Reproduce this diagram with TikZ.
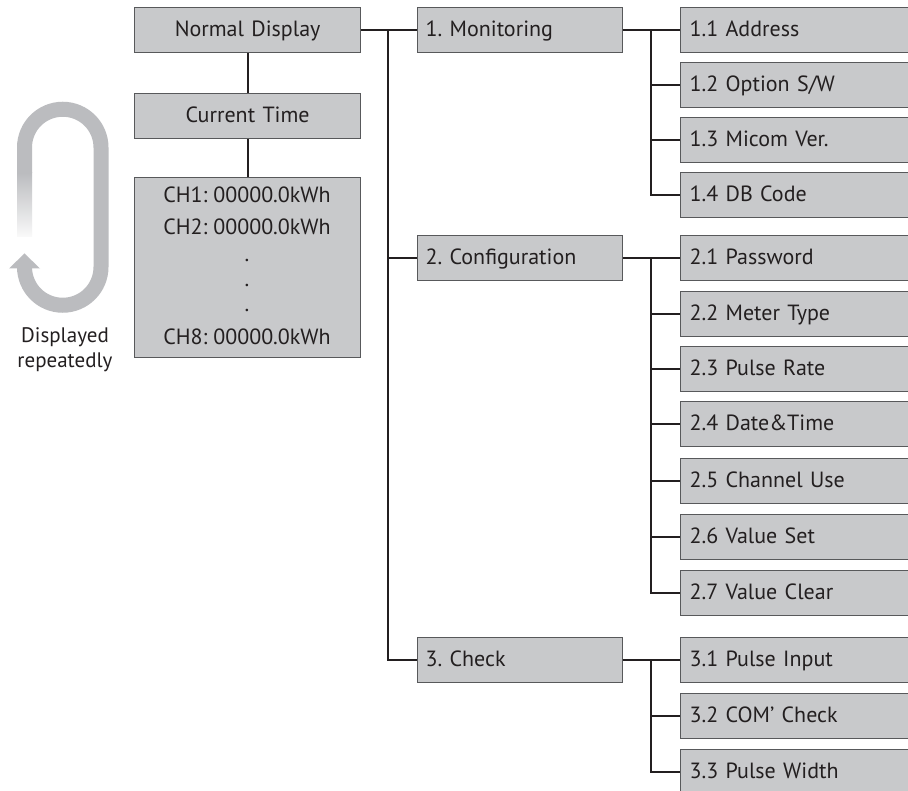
\documentclass[tikz,border=0pt]{standalone}
\usepackage{fontspec}
\setmainfont{PT Sans}
\frenchspacing
\definecolor{boxc}{HTML}{C8C9CB}
\definecolor{bordc}{HTML}{58595B}
\definecolor{linec}{HTML}{231F20}
\definecolor{loopc}{HTML}{BBBCBF}
\tikzset{
  basebox/.style={draw=bordc, fill=boxc, line width=1.2pt, minimum height=45pt,
    inner ysep=0pt, anchor=north west, text height=18pt, text depth=4.6pt,
    font=\fontsize{22}{26}\selectfont\frenchspacing, text=linec},
  mainbox/.style={basebox, inner xsep=8pt, text width=189pt, align=left},
  subbox/.style={basebox, inner xsep=9pt, text width=227pt, align=left},
  topbox/.style={basebox, inner xsep=8pt, text width=210pt, align=center},
  conn/.style={draw=linec, line width=2pt},
  chtext/.style={font=\fontsize{22}{26}\selectfont, text=linec, inner sep=0pt},
}
\begin{document}
\begin{tikzpicture}[x=1pt,y=-1pt]
\clip (0,0) rectangle (908,791);
\fill[white] (0,0) rectangle (908,791);
% left column
\node[topbox] (nd) at (134,7) {Normal Display};
\node[topbox] (ct) at (134,93) {Current Time};
\node[basebox, minimum width=226pt, minimum height=180pt, text width=0pt, text height=0pt, text depth=0pt, inner xsep=0pt] (ch) at (134,177) {};
\node[chtext] (c1) at (247,195) {CH1: 00000.0kWh};
\node[chtext] (c2) at (247,227) {CH2: 00000.0kWh};
\node[chtext, anchor=base] (d1) at (247,262) {.};
\node[chtext, anchor=base] (d2) at (247,287) {.};
\node[chtext, anchor=base] (d3) at (247,312) {.};
\node[chtext] (c8) at (247,337) {CH8: 00000.0kWh};
% menu level 1
\node[mainbox] (m1) at (417,7) {1. Monitoring};
\node[mainbox] (m2) at (417,235) {2. Configuration};
\node[mainbox] (m3) at (417,637) {3. Check};
% level 2
\node[subbox] (s11) at (680,7) {1.1 Address};
\node[subbox] (s12) at (680,62) {1.2 Option S/W};
\node[subbox] (s13) at (680,117) {1.3 Micom Ver.};
\node[subbox] (s14) at (680,172) {1.4 DB Code};
\node[subbox] (s21) at (680,235) {2.1 Password};
\node[subbox] (s22) at (680,291) {2.2 Meter Type};
\node[subbox] (s23) at (680,346) {2.3 Pulse Rate};
\node[subbox] (s24) at (680,401) {2.4 Date\&Time};
\node[subbox] (s25) at (680,458) {2.5 Channel Use};
\node[subbox] (s26) at (680,514) {2.6 Value Set};
\node[subbox] (s27) at (680,570) {2.7 Value Clear};
\node[subbox] (s31) at (680,637) {3.1 Pulse Input};
\node[subbox] (s32) at (680,693) {3.2 COM’ Check};
\node[subbox] (s33) at (680,749) {3.3 Pulse Width};
% connectors
\coordinate (t) at (388,0);
\coordinate (b) at (651,0);
\draw[conn] (nd.south) -- (ct.north);
\draw[conn] (ct.south) -- (ch.north);
\draw[conn] (nd.east) -- (m1.west);
\draw[conn] (t |- m1.west) |- (m3.west);
\draw[conn] (t |- m2.west) -- (m2.west);
\draw[conn] (m1.east) -- (s11.west);
\draw[conn] (b |- s11.west) |- (s14.west);
\foreach \n in {s12,s13} \draw[conn] (b |- \n.west) -- (\n.west);
\draw[conn] (m2.east) -- (s21.west);
\draw[conn] (b |- s21.west) |- (s27.west);
\foreach \n in {s22,s23,s24,s25,s26} \draw[conn] (b |- \n.west) -- (\n.west);
\draw[conn] (m3.east) -- (s31.west);
\draw[conn] (b |- s31.west) |- (s33.west);
\draw[conn] (b |- s32.west) -- (s32.west);
% loop arrow
\draw[loopc, line width=15pt] (24.5,173) -- (24.5,147.5) arc (180:360:38.25) -- (101,267) arc (0:180:38.25);
\shade[top color=loopc, bottom color=loopc!8] (17,172.5) rectangle (32,237);
\fill[loopc] (9,268.5) -- (40,268.5) -- (24.5,253.5) -- cycle;
\node[font=\fontsize{21}{25}\selectfont, text=linec, align=center, inner sep=0pt] (lbl) at (65,350) {Displayed\\repeatedly};
\end{tikzpicture}
\end{document}
